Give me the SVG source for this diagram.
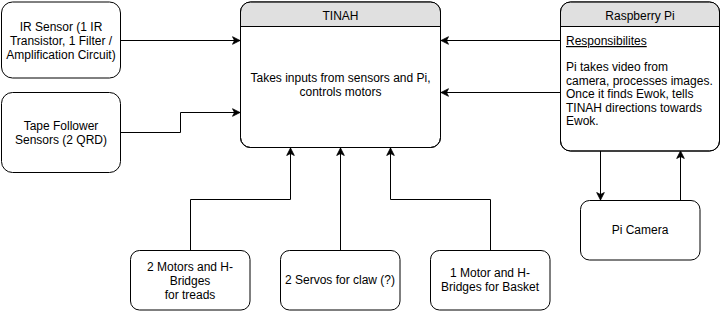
<svg xmlns="http://www.w3.org/2000/svg" width="721" height="311" viewBox="0 0 721 311">
  <style>
    .box { fill: #ffffff; stroke: #000000; stroke-width: 1; }
    .head { fill: #e0e0e0; stroke: none; }
    .sep { stroke: #000000; stroke-width: 1; fill: none; }
    .edge { fill: none; stroke: #000000; stroke-width: 1; marker-end: url(#arrow); }
    text { font-family: "Liberation Sans", Arial, sans-serif; font-size: 12px; fill: #000000; }
    .c { text-anchor: middle; }
  </style>
  <defs>
    <marker id="arrow" markerUnits="userSpaceOnUse" markerWidth="10" markerHeight="10" viewBox="-8 -5 10 10" refX="0" refY="0" orient="auto">
      <path d="M0,0 L-7.5,-3.8 L-5.5,0 L-7.5,3.8 Z" fill="#000000" stroke="#000000" stroke-width="0.8"/>
    </marker>
  </defs>
  <rect width="721" height="311" fill="#ffffff"/>

  <g id="connectors">
    <path class="edge" d="M120.5,40.5 L240,40.5"/>
    <path class="edge" d="M120.5,132.5 L180.5,132.5 L180.5,112.5 L240,112.5"/>
    <path class="edge" d="M560.5,40.5 L441,40.5"/>
    <path class="edge" d="M560.5,92.5 L441,92.5"/>
    <path class="edge" d="M190.5,250.5 L190.5,199.5 L290.5,199.5 L290.5,148"/>
    <path class="edge" d="M340.5,250.5 L340.5,148"/>
    <path class="edge" d="M490.5,250.5 L490.5,199.5 L390.5,199.5 L390.5,148"/>
    <path class="edge" d="M600.5,151 L600.5,200"/>
    <path class="edge" d="M680.5,200 L680.5,151"/>
  </g>

  <g id="ir-sensor">
    <rect class="box" x="1.5" y="2" width="119" height="76" rx="11" ry="11"/>
    <text class="c" x="61" y="31">IR Sensor (1 IR</text>
    <text class="c" x="61" y="45">Transistor, 1 Filter /</text>
    <text class="c" x="61" y="59">Amplification Circuit)</text>
  </g>

  <g id="tape-follower">
    <rect class="box" x="1.5" y="92.5" width="119" height="80" rx="11" ry="11"/>
    <text class="c" x="61" y="130">Tape Follower</text>
    <text class="c" x="61" y="144">Sensors (2 QRD)</text>
  </g>

  <g id="tinah">
    <rect class="box" x="240.5" y="2" width="200" height="145.5" rx="10" ry="10"/>
    <path class="head" d="M241,26.5 L241,12 Q241,2.5 250.5,2.5 L430.5,2.5 Q440,2.5 440,12 L440,26.5 Z"/>
    <rect x="240.5" y="2" width="200" height="145.5" rx="10" ry="10" fill="none" stroke="#000000"/>
    <line class="sep" x1="240.5" y1="26.5" x2="440.5" y2="26.5"/>
    <text class="c" x="340.5" y="20">TINAH</text>
    <text class="c" x="340.5" y="82">Takes inputs from sensors and Pi,</text>
    <text class="c" x="340.5" y="96">controls motors</text>
  </g>

  <g id="raspberry-pi">
    <rect class="box" x="560.5" y="2" width="159" height="149" rx="10" ry="10"/>
    <path class="head" d="M561,26.5 L561,12 Q561,2.5 570.5,2.5 L709.5,2.5 Q719,2.5 719,12 L719,26.5 Z"/>
    <rect x="560.5" y="2" width="159" height="149" rx="10" ry="10" fill="none" stroke="#000000"/>
    <line class="sep" x1="560.5" y1="26.5" x2="719.5" y2="26.5"/>
    <text class="c" x="640" y="20">Raspberry Pi</text>
    <text x="566" y="45" text-decoration="underline">Responsibilites</text>
    <text x="566" y="71">Pi takes video from</text>
    <text x="566" y="84.5">camera, processes images.</text>
    <text x="566" y="98">Once it finds Ewok, tells</text>
    <text x="566" y="111.5">TINAH directions towards</text>
    <text x="566" y="125">Ewok.</text>
  </g>

  <g id="pi-camera">
    <rect class="box" x="580.5" y="200.5" width="119.5" height="59.5" rx="9" ry="9"/>
    <text class="c" x="640" y="234">Pi Camera</text>
  </g>

  <g id="motors-treads">
    <rect class="box" x="130.5" y="250.5" width="119.5" height="59.5" rx="9" ry="9"/>
    <text class="c" x="190" y="271">2 Motors and H-</text>
    <text class="c" x="190" y="285">Bridges</text>
    <text class="c" x="190" y="299">for treads</text>
  </g>

  <g id="servos-claw">
    <rect class="box" x="280.5" y="250.5" width="119.5" height="59.5" rx="9" ry="9"/>
    <text class="c" x="340" y="284">2 Servos for claw (?)</text>
  </g>

  <g id="motor-basket">
    <rect class="box" x="430.5" y="250.5" width="119.5" height="59.5" rx="9" ry="9"/>
    <text class="c" x="490" y="277">1 Motor and H-</text>
    <text class="c" x="490" y="291">Bridges for Basket</text>
  </g>
</svg>
